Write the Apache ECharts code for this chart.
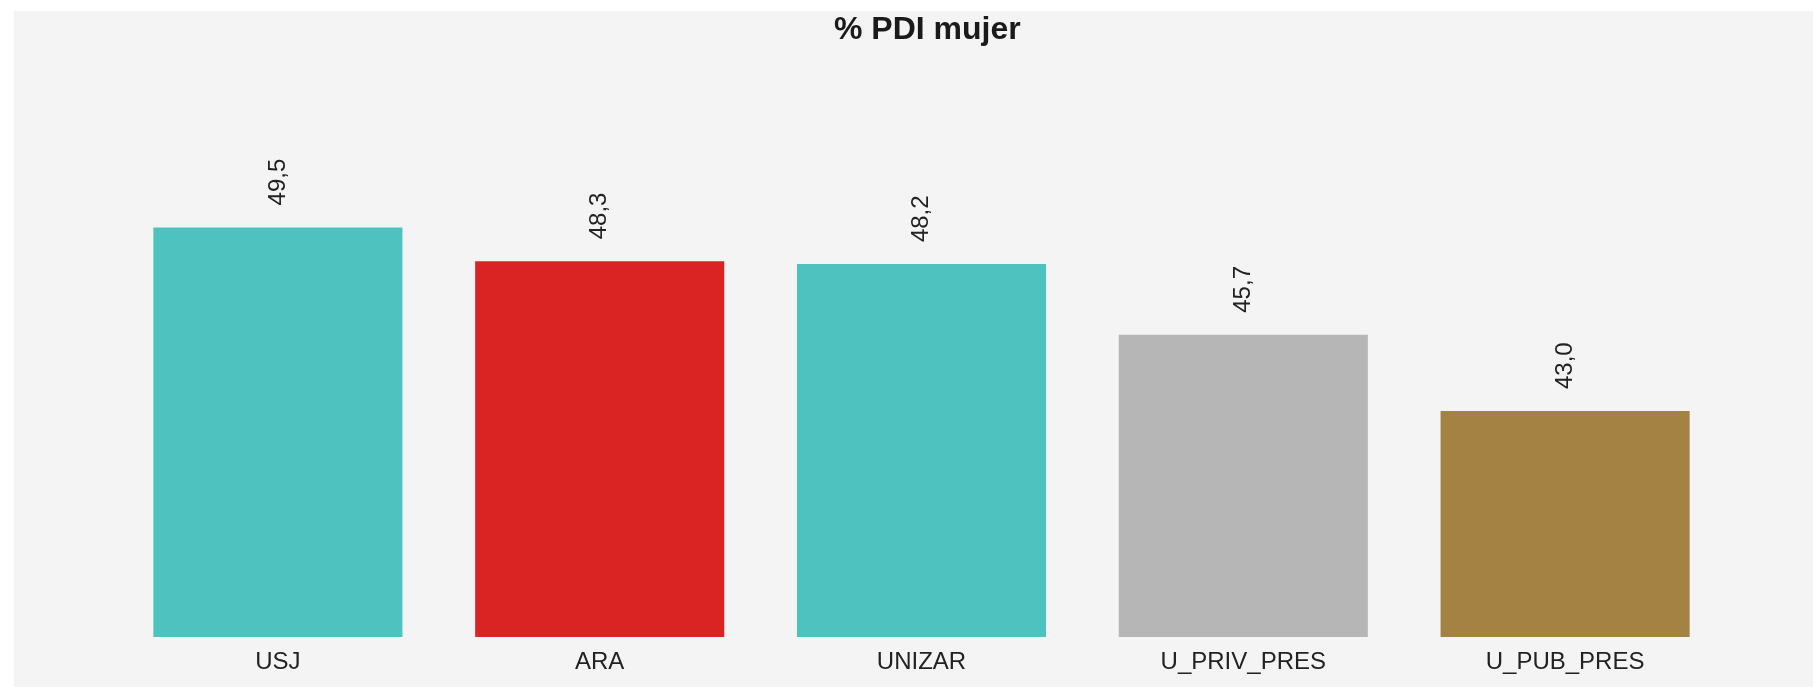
<!DOCTYPE html>
<html>
<head>
<meta charset="utf-8">
<title>% PDI mujer</title>
<script src="https://cdn.jsdelivr.net/npm/echarts@6/dist/echarts.min.js"></script>
<style>
    html, body { margin: 0; padding: 0; background: #ffffff; }
    #main {
        position: absolute;
        left: 14px;
        top: 11px;
        width: 1799px;
        height: 676px;
        background: #f4f4f4;
    }
</style>
</head>
<body>
<div id="main"></div>
<script>
// datos del gráfico
var categorias = ['USJ', 'ARA', 'UNIZAR', 'U_PRIV_PRES', 'U_PUB_PRES'];
var valores = [49.5, 48.3, 48.2, 45.7, 43.0];
var colores = ['#4ec2bf', '#da2323', '#4ec2bf', '#b6b6b6', '#a38244'];

var chart = echarts.init(document.getElementById('main'));
var option = {
    backgroundColor: '#f4f4f4',
    animation: false,
    title: {
        text: '% PDI mujer',
        left: 815,
        top: -2,
        textStyle: {
            fontFamily: 'Liberation Sans, Arial, sans-serif',
            fontSize: 32,
            fontWeight: 'bold',
            color: '#1a1a1a'
        }
    },
    grid: {
        left: 103,
        right: 87,
        top: 61,
        bottom: 50
    },
    xAxis: {
        type: 'category',
        data: categorias,
        axisLine: { show: false },
        axisTick: { show: false },
        axisLabel: {
            margin: 13,
            fontFamily: 'Liberation Sans, Arial, sans-serif',
            fontSize: 24,
            color: '#222222'
        }
    },
    yAxis: {
        type: 'value',
        min: 35,
        max: 55,
        show: false
    },
    series: [{
        type: 'bar',
        barCategoryGap: '22.6%',
        data: valores.map(function (v, i) {
            return { value: v, itemStyle: { color: colores[i] } };
        }),
        label: {
            show: true,
            position: 'top',
            rotate: 90,
            align: 'left',
            verticalAlign: 'middle',
            distance: 22,
            fontFamily: 'Liberation Sans, Arial, sans-serif',
            fontSize: 24,
            color: '#222222',
            formatter: function (p) {
                return p.value.toFixed(1).replace('.', ',');
            }
        }
    }]
};
chart.setOption(option);
</script>
</body>
</html>
